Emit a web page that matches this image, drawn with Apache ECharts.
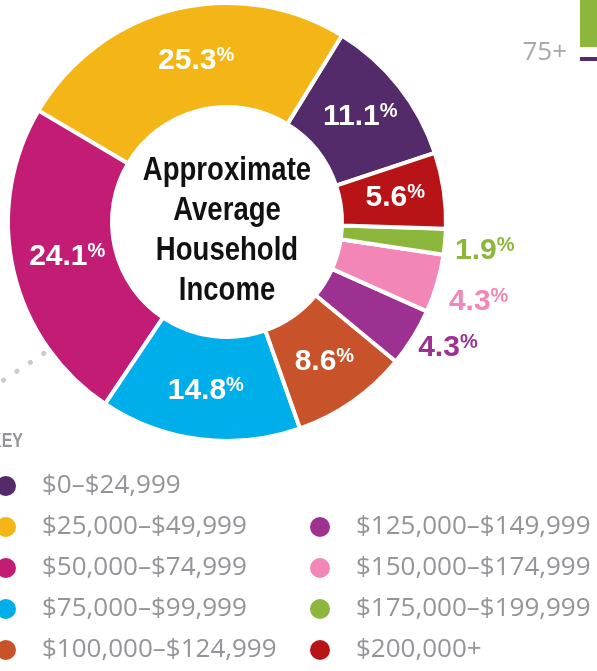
<!DOCTYPE html>
<html>
<head>
<meta charset="utf-8">
<script src="https://cdn.jsdelivr.net/npm/echarts@6/dist/echarts.min.js"></script>
<style>
  html, body { margin: 0; padding: 0; background: #fff; }
  #income-chart { width: 597px; height: 671px; }
</style>
</head>
<body>
<div id="income-chart"></div>
<script>
// income brackets, in legend order
const brackets = [
  '$0–$24,999',
  '$25,000–$49,999',
  '$50,000–$74,999',
  '$75,000–$99,999',
  '$100,000–$124,999',
  '$125,000–$149,999',
  '$150,000–$174,999',
  '$175,000–$199,999',
  '$200,000+'
]
// share of households (%)
const shares = [11.1, 25.3, 24.1, 14.8, 8.6, 4.3, 4.3, 1.9, 5.6]
const colors = ['#532a6a', '#f4b617', '#c21c74', '#00aeea', '#c8532a', '#9c3191', '#f287b7', '#8db63c', '#b81418']
// thin slices get their label outside the ring
const outsideLabel = [false, false, false, false, false, true, true, true, false]

const boldFont = "'Liberation Sans', Arial, sans-serif"
const legendText = {
  color: '#939598',
  fontSize: 26,
  fontFamily: "'Open Sans', 'Noto Sans', sans-serif"
}

// small hand nudges so the labels sit where the designer put them
const labelNudge = {
  1: { dx: 10, dy: 4 },
  2: { dx: 6, dy: -3 },
  5: { dx: -4, dy: 7 },
  6: { dx: 2, dy: 16 },
  7: { dx: 0, dy: 8 }
}

const chart = echarts.init(document.getElementById('income-chart'))

const legendBase = {
  orient: 'vertical',
  icon: 'circle',
  itemWidth: 62,
  itemHeight: 22,
  itemGap: 15,
  selectedMode: false,
  textStyle: legendText
}

chart.setOption({
  animation: false,
  legend: [
    { ...legendBase, data: brackets.slice(0, 5), left: -11, top: 468 },
    { ...legendBase, data: brackets.slice(5), left: 303, top: 509 }
  ],
  graphic: [
    {
      type: 'text',
      x: 227,
      y: 231,
      scaleX: 0.81,
      style: {
        text: 'Approximate\nAverage\nHousehold\nIncome',
        align: 'center',
        verticalAlign: 'middle',
        font: 'bold 34px ' + boldFont,
        lineHeight: 40,
        fill: '#111'
      }
    },
    {
      type: 'text',
      x: 23,
      y: 441,
      scaleX: 0.8,
      style: {
        text: 'KEY',
        align: 'right',
        verticalAlign: 'middle',
        font: 'bold 20px ' + boldFont,
        fill: '#939598'
      }
    },
    {
      type: 'line',
      shape: { x1: -10, y1: 389, x2: 46, y2: 352 },
      style: { stroke: '#c9cbcd', lineWidth: 5, lineDash: [0.1, 16], lineCap: 'round' }
    },
    {
      type: 'text',
      x: 567,
      y: 53,
      style: {
        text: '75+',
        align: 'right',
        verticalAlign: 'middle',
        font: '26px "Open Sans", sans-serif',
        fill: '#a7a9ac'
      }
    },
    { type: 'rect', shape: { x: 580, y: 0, width: 17, height: 47 }, style: { fill: '#8db63c' } },
    { type: 'rect', shape: { x: 580, y: 57, width: 17, height: 4 }, style: { fill: '#532a6a' } }
  ],
  series: [
    {
      type: 'pie',
      center: [227, 222],
      radius: [115, 219],
      startAngle: 18.4,
      clockwise: false,
      avoidLabelOverlap: false,
      itemStyle: {
        borderColor: '#fff',
        borderWidth: 4
      },
      label: {
        show: true,
        position: 'inside',
        formatter: '{v|{c}}{p|%}',
        color: '#fff',
        rich: {
          v: { fontFamily: boldFont, fontWeight: 'bold', fontSize: 30, lineHeight: 30 },
          p: { fontFamily: boldFont, fontWeight: 'bold', fontSize: 20, lineHeight: 30, verticalAlign: 'top' }
        }
      },
      labelLine: { show: false },
      labelLayout: params => labelNudge[params.dataIndex] || {},
      data: brackets.map((name, i) => ({
        name,
        value: shares[i],
        itemStyle: { color: colors[i] },
        label: outsideLabel[i]
          ? { position: 'outside', color: colors[i], distanceToLabelLine: 4 }
          : undefined,
        labelLine: outsideLabel[i] ? { show: false, length: 6, length2: 0 } : undefined
      }))
    }
  ]
})
</script>
</body>
</html>
